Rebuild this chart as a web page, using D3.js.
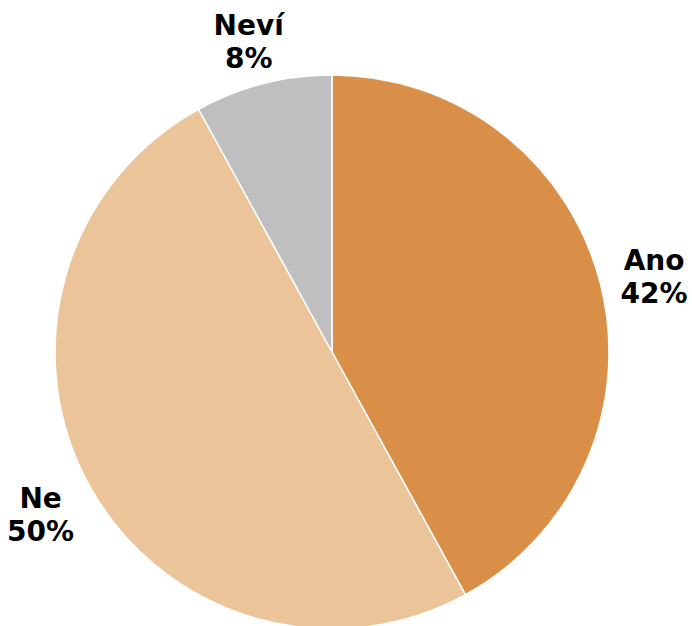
<!DOCTYPE html>
<html><head><meta charset="utf-8">
<script src="https://cdn.jsdelivr.net/npm/d3@7"></script>
<style>body{margin:0;background:#fff;}svg{display:block;}</style>
</head><body>
<svg id="c" width="692" height="626"></svg>
<script>
const categories = ["Ano", "Ne", "Neví"];
const values = [42, 50, 8];
const colors = ["#D98F48", "#EBC599", "#BFBFBF"];

const W = 692, H = 626, cx = 332, cy = 352, R = 277, GAP = 22, FS = 28;
const L1 = -2, L2 = 31;
const svg = d3.select("#c");
const g = svg.append("g").attr("transform", `translate(${cx},${cy})`);
const data = categories.map((c, i) => ({cat: c, val: values[i], col: colors[i]}));
const pie = d3.pie().value(d => d.val).sort(null);
const arc = d3.arc().innerRadius(0).outerRadius(R);
const arcs = pie(data);
g.selectAll("path").data(arcs).join("path")
  .attr("d", arc).attr("fill", d => d.data.col)
  .attr("stroke", "#fff").attr("stroke-width", 1.5);
const tg = g.selectAll("text").data(arcs).join("text")
  .attr("text-anchor", "middle")
  .attr("font-family", "DejaVu Sans, Verdana, sans-serif")
  .attr("font-weight", "bold").attr("font-size", FS).attr("fill", "#000");
tg.append("tspan").attr("x", 0).attr("y", L1).text(d => d.data.cat);
tg.append("tspan").attr("x", 0).attr("y", L2).text(d => d.data.val + "%");
const capTop = L1 - 0.73 * FS, vh = L2 - capTop, vcy = (capTop + L2) / 2 - 5;
tg.each(function(d) {
  const bb = this.getBBox();
  const a = (d.startAngle + d.endAngle) / 2;
  const ux = Math.sin(a), uy = -Math.cos(a);
  const px = (R + GAP) * ux + bb.width / 2 * ux;
  const py = (R + GAP) * uy + vh / 2 * uy;
  d3.select(this).attr("transform", `translate(${px},${py - vcy})`);
});
</script>
</body></html>
